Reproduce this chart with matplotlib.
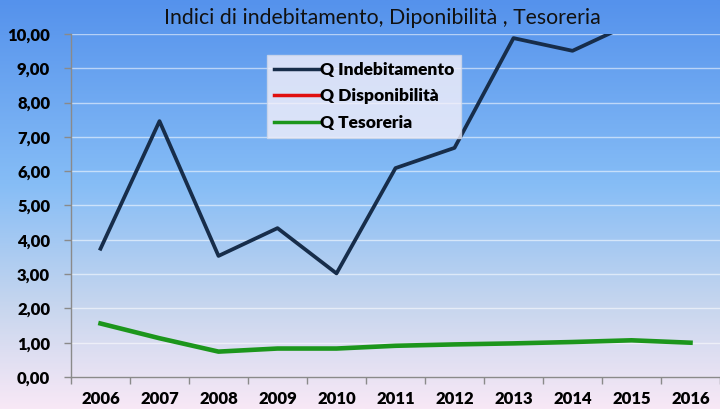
import numpy as np
import matplotlib
matplotlib.use("Agg")
import matplotlib.pyplot as plt
from matplotlib.colors import LinearSegmentedColormap

years = ["2006", "2007", "2008", "2009", "2010", "2011", "2012", "2013", "2014", "2015", "2016"]
q_indebitamento = [3.74, 7.46, 3.53, 4.34, 3.02, 6.09, 6.68, 9.88, 9.51, 10.31, 10.70]
q_disponibilita = [1.56, 1.13, 0.74, 0.83, 0.83, 0.91, 0.95, 0.98, 1.02, 1.07, 1.00]
q_tesoreria = [1.56, 1.13, 0.74, 0.83, 0.83, 0.91, 0.95, 0.98, 1.02, 1.07, 1.00]
y_ticks = [0, 1, 2, 3, 4, 5, 6, 7, 8, 9, 10]

plt.rcParams['font.family'] = ['Lato', 'DejaVu Sans']

fig = plt.figure(figsize=(7.2, 4.09), dpi=100)

# background gradient
bg = fig.add_axes([0, 0, 1, 1], zorder=-10)
cmap = LinearSegmentedColormap.from_list(
    "bg", [(0.0, "#5592ec"), (0.45, "#86bdf6"), (0.75, "#c7d6ee"), (1.0, "#f8e8f6")])
grad = np.linspace(0, 1, 256).reshape(-1, 1)
bg.imshow(grad, aspect="auto", cmap=cmap, extent=[0, 1, 0, 1], origin="upper")
bg.set_axis_off()

ax = fig.add_axes([71/720, 1 - 377/409, 1 - 71/720, (377 - 34)/409])
ax.patch.set_alpha(0)
x = np.arange(len(years))

ax.plot(x, q_indebitamento, color="#172d4a", lw=2.7, label="Q Indebitamento", zorder=3)
ax.plot(x, q_disponibilita, color="#e01010", lw=1.8, label="Q Disponibilità", zorder=3)
ax.plot(x, q_tesoreria, color="#1c961c", lw=3.3, label="Q Tesoreria", zorder=4)

ax.set_xlim(-0.5, len(years) - 0.5)
ax.set_ylim(0, 10)
ax.set_yticks(y_ticks)
ax.set_yticklabels([f"{v:.2f}".replace(".", ",") for v in y_ticks], fontweight="heavy", fontsize=12)
ax.set_xticks(x)
ax.set_xticklabels(years, fontweight="heavy", fontsize=12)
ax.set_xticks(np.arange(-0.5, len(years)), minor=True)
ax.tick_params(axis="x", which="major", length=0, pad=10)
ax.tick_params(axis="x", which="minor", length=5, color="#8a8a8a", width=1)
ax.tick_params(axis="y", length=5, color="#8a8a8a", width=1, pad=10)
for s in ["top", "right"]:
    ax.spines[s].set_visible(False)
for s in ["left", "bottom"]:
    ax.spines[s].set_color("#8a8a8a")
    ax.spines[s].set_linewidth(1)
ax.grid(axis="y", color="white", alpha=0.55, lw=1)
ax.set_axisbelow(True)

leg = ax.legend(loc="upper left", bbox_to_anchor=((267-71)/649, (377-55)/343),
                borderaxespad=0, frameon=True, fancybox=False,
                prop={"weight": "heavy", "size": 12.5}, handlelength=2.6,
                handletextpad=0.05, labelspacing=0.6, borderpad=0.4)
leg.get_frame().set_facecolor("#f4f0fa")
leg.get_frame().set_alpha(0.8)
leg.get_frame().set_edgecolor("#d0d8e8")
for line in leg.get_lines():
    line.set_linewidth(2.5)

fig.text(382/720, 1 - 18/409, "Indici di indebitamento, Diponibilità , Tesoreria",
         ha="center", va="center", fontsize=15.3, color="#111111")

fig.savefig("out.png", dpi=100)
